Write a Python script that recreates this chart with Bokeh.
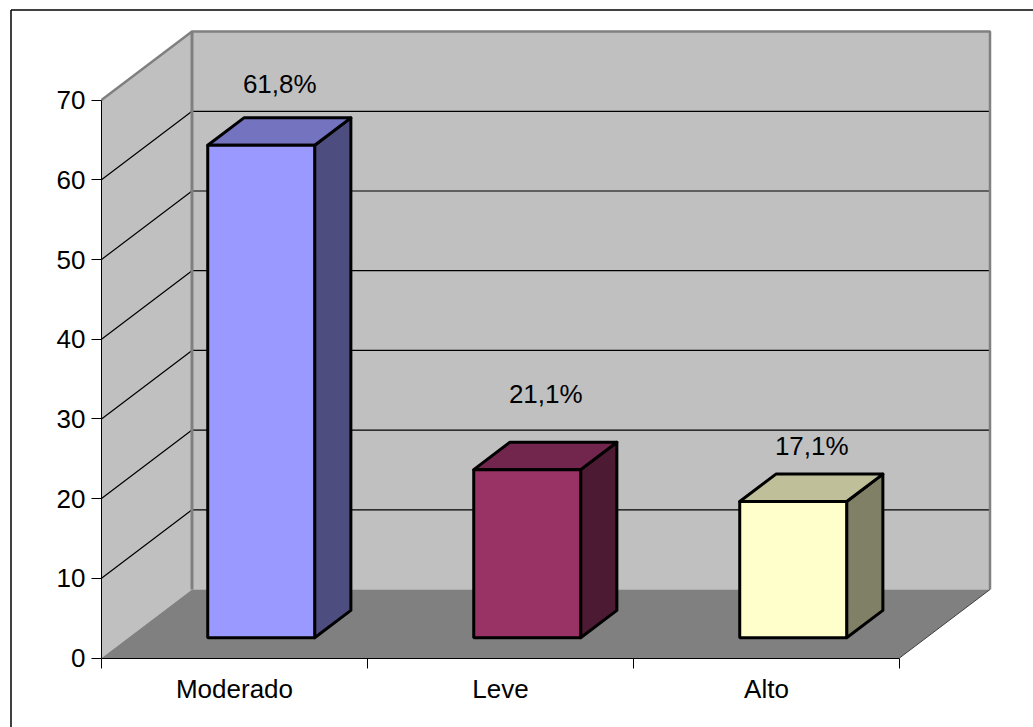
from bokeh.core.properties import value
from bokeh.embed import file_html
from bokeh.models import ColumnDataSource, FixedTicker, LinearAxis, Range1d
from bokeh.plotting import figure
from bokeh.resources import INLINE

categories = ["Moderado", "Leve", "Alto"]
percentages = [61.8, 21.1, 17.1]
y_ticks = [0, 10, 20, 30, 40, 50, 60, 70]

# Scale of the 3D box: pixels per category and per value unit, origin on the canvas.
WIDTH, HEIGHT = 1033, 727
ORIGIN_X, ORIGIN_Y = 101.0, 657.5
PX_PER_CAT, PX_PER_UNIT = 266.0, 7.97
DEPTH_X = 90.5 / PX_PER_CAT       # floor depth, in category units
DEPTH_Y = 68.5 / PX_PER_UNIT      # floor depth, in value units
BAR_WIDTH = 0.402
BAR_NEAR, BAR_FAR = 0.295, 0.695  # bar extent along the depth direction
LABEL_RAISE = [10.2, 12.0, 9.5]   # height of each value label above its bar
Y_MAX = 70
N = len(categories)

FONT = "Liberation Sans"
FONT_SIZE = "26px"

WALL, FLOOR, EDGE = "#C0C0C0", "#808080", "#808080"
FRONT = ["#9999FF", "#993366", "#FFFFCC"]
TOP = ["#7373BF", "#73264D", "#BFBF99"]
SIDE = ["#4D4D80", "#4D1A33", "#808066"]

p = figure(
    width=WIDTH,
    height=HEIGHT,
    output_backend="svg",
    toolbar_location=None,
    min_border=0,
    x_axis_type=None,
    y_axis_type=None,
    x_range=Range1d(-ORIGIN_X / PX_PER_CAT, (WIDTH - ORIGIN_X) / PX_PER_CAT),
    y_range=Range1d((ORIGIN_Y - HEIGHT) / PX_PER_UNIT, ORIGIN_Y / PX_PER_UNIT),
)
p.grid.visible = False
p.outline_line_color = None
p.background_fill_color = "white"
p.border_fill_color = "white"

# Chart area frame: its top and left edges
frame_left = (10.5 - ORIGIN_X) / PX_PER_CAT
frame_top = (ORIGIN_Y - 9.5) / PX_PER_UNIT
p.line(
    [frame_left, frame_left], [(ORIGIN_Y - HEIGHT) / PX_PER_UNIT, frame_top],
    line_color="black", line_width=1.5,
)
p.line(
    [frame_left, (WIDTH - ORIGIN_X) / PX_PER_CAT], [frame_top, frame_top],
    line_color="black", line_width=1.5,
)

# Walls and floor of the box
p.patch([DEPTH_X, N + DEPTH_X, N + DEPTH_X, DEPTH_X],
        [DEPTH_Y, DEPTH_Y, Y_MAX + DEPTH_Y, Y_MAX + DEPTH_Y],
        fill_color=WALL, line_color=None)
p.patch([0, DEPTH_X, DEPTH_X, 0], [0, DEPTH_Y, Y_MAX + DEPTH_Y, Y_MAX],
        fill_color=WALL, line_color=None)
p.patch([0, N, N + DEPTH_X, DEPTH_X], [0, 0, DEPTH_Y, DEPTH_Y],
        fill_color=FLOOR, line_color=None)

# Gridlines run across the side wall and along the back wall
for tick in y_ticks[1:-1]:
    p.line([0, DEPTH_X, N + DEPTH_X], [tick, tick + DEPTH_Y, tick + DEPTH_Y],
           line_color="black", line_width=1.2)

# Box edges
p.line([0, DEPTH_X, N + DEPTH_X, N + DEPTH_X],
       [Y_MAX, Y_MAX + DEPTH_Y, Y_MAX + DEPTH_Y, DEPTH_Y],
       line_color=EDGE, line_width=2.5)
p.line([DEPTH_X, DEPTH_X], [DEPTH_Y, Y_MAX + DEPTH_Y], line_color=EDGE, line_width=3)
p.line([N, N + DEPTH_X], [0, DEPTH_Y], line_color="#404040", line_width=1)

# Bars: front, top and side faces computed from each value
near_x, near_y = DEPTH_X * BAR_NEAR, DEPTH_Y * BAR_NEAR
far_x, far_y = DEPTH_X * BAR_FAR, DEPTH_Y * BAR_FAR
front_l, front_r, front_b, front_t = [], [], [], []
top_xs, top_ys, side_xs, side_ys = [], [], [], []
for i, v in enumerate(percentages):
    left = i + 0.5 - BAR_WIDTH / 2 + near_x
    right = left + BAR_WIDTH
    base = near_y
    height = v + near_y
    shift_x, shift_y = far_x - near_x, far_y - near_y
    front_l.append(left)
    front_r.append(right)
    front_b.append(base)
    front_t.append(height)
    top_xs.append([left, right, right + shift_x, left + shift_x])
    top_ys.append([height, height, height + shift_y, height + shift_y])
    side_xs.append([right, right + shift_x, right + shift_x, right])
    side_ys.append([base, base + shift_y, height + shift_y, height])

p.patches("xs", "ys", source=ColumnDataSource(dict(xs=side_xs, ys=side_ys, c=SIDE)),
          fill_color="c", line_color="black", line_width=3, line_join="round")
p.patches("xs", "ys", source=ColumnDataSource(dict(xs=top_xs, ys=top_ys, c=TOP)),
          fill_color="c", line_color="black", line_width=3, line_join="round")
p.quad(left="l", right="r", bottom="b", top="t",
       source=ColumnDataSource(dict(l=front_l, r=front_r, b=front_b, t=front_t, c=FRONT)),
       fill_color="c", line_color="black", line_width=3)

# Value labels above the bars
p.text(
    x=[i + 0.5 + DEPTH_X / 2 for i in range(N)],
    y=[v + r for v, r in zip(percentages, LABEL_RAISE)],
    text=[f"{v:.1f}%".replace(".", ",") for v in percentages],
    text_font=value(FONT),
    text_font_size=value(FONT_SIZE),
    text_color="black",
    text_align="center",
    text_baseline="middle",
)

# Value axis on the front left edge
y_axis = LinearAxis(
    fixed_location=0,
    bounds=(0, Y_MAX),
    ticker=FixedTicker(ticks=y_ticks),
    major_tick_in=0,
    major_tick_out=10,
    minor_tick_out=0,
    major_label_standoff=6,
    major_label_text_font=FONT,
    major_label_text_font_size=FONT_SIZE,
    major_label_text_color="black",
    axis_line_color="black",
    major_tick_line_color="black",
)
p.add_layout(y_axis, "left")

# Category axis: labels centred between ticks drawn at the category boundaries
x_axis = LinearAxis(
    fixed_location=0,
    bounds=(0, N),
    ticker=FixedTicker(ticks=[i + 0.5 for i in range(N)], minor_ticks=list(range(N + 1))),
    major_label_overrides={i + 0.5: c for i, c in enumerate(categories)},
    major_tick_in=0,
    major_tick_out=0,
    minor_tick_in=0,
    minor_tick_out=10,
    major_label_standoff=6,
    major_label_text_font=FONT,
    major_label_text_font_size=FONT_SIZE,
    major_label_text_color="black",
    axis_line_color="black",
    minor_tick_line_color="black",
)
p.add_layout(x_axis, "below")

open("out.html", "w").write(file_html(p, INLINE))
